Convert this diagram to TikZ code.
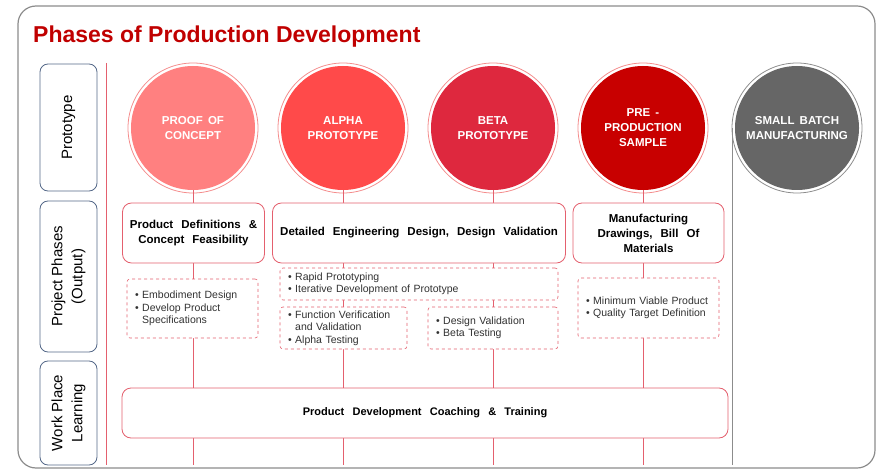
\documentclass[tikz,border=0pt]{standalone}
\usepackage{fontspec}
\setmainfont{Liberation Sans}
\definecolor{titlered}{RGB}{192,0,0}
\definecolor{linkred}{RGB}{228,96,110}
\definecolor{ringred}{RGB}{244,140,140}
\definecolor{labelblue}{RGB}{84,104,136}
\definecolor{framegray}{RGB}{140,140,140}
\definecolor{pocfill}{RGB}{255,128,128}
\definecolor{alphafill}{RGB}{255,74,74}
\definecolor{betafill}{RGB}{222,40,62}
\definecolor{prefill}{RGB}{200,0,0}
\definecolor{batchfill}{RGB}{102,102,102}
\definecolor{bullettext}{RGB}{50,50,50}
\newcommand{\widegap}[1]{\spaceskip=#1\relax}
\tikzset{
  phase/.style={circle, fill=#1, minimum size=124pt, inner sep=0pt, text=white,
    align=center, font=\fontsize{11.5}{15}\selectfont\bfseries\widegap{0.45em}},
  ring/.style={draw=ringred, line width=0.8pt},
  lanelabel/.style={draw=labelblue, rounded corners=8pt, line width=0.8pt,
    minimum width=57pt, align=center, font=\fontsize{15}{20}\selectfont},
  outputbox/.style={draw=linkred, fill=white, rounded corners=9pt, line width=0.8pt,
    minimum height=60pt, align=center, font=\fontsize{11.5}{15}\selectfont\bfseries\widegap{0.7em}},
  detail/.style={draw=linkred, dashed, fill=white, rounded corners=3pt, line width=0.6pt,
    align=left, inner xsep=8pt, text=bullettext, font=\fontsize{10.5}{12.5}\selectfont},
  link/.style={draw=linkred, line width=0.6pt}
}
\begin{document}
\begin{tikzpicture}[x=1pt, y=-1pt]
    \useasboundingbox (0,0) rectangle (880,470);
    % frame and title
    \draw [framegray, line width=1.2pt, rounded corners=18pt] (18,6) rectangle (875,468);
    \node (title) [anchor=base west, inner sep=0pt, text=titlered,
      font=\fontsize{23}{28}\selectfont\bfseries] at (33,43) {Phases of Production Development};
    % lane labels
    \node (proto) [lanelabel, minimum height=127pt] at (68.5,127.5) {};
    \node [rotate=90, font=\fontsize{15}{20}\selectfont] at (proto.center) {Prototype};
    \node (phases) [lanelabel, minimum height=151pt] at (68.5,276.5) {};
    \node [rotate=90, align=center, font=\fontsize{15}{20}\selectfont] at (phases.center) {Project Phases\\(Output)};
    \node (learn) [lanelabel, minimum height=104pt] at (68.5,413) {};
    \node [rotate=90, align=center, font=\fontsize{15}{20}\selectfont] at (learn.center) {Work Place\\Learning};
    \coordinate (lanetop) at (106,63);
    \coordinate (lanebot) at (106,465);
    \draw [link, line width=0.8pt] (lanetop) -- (lanebot);
    % phases
    \node (poc) [phase=pocfill] at (193,128) {PROOF OF\\CONCEPT};
    \node (alpha) [phase=alphafill] at (343,128) {ALPHA\\PROTOTYPE};
    \node (beta) [phase=betafill] at (493,128) {BETA\\PROTOTYPE};
    \node (pre) [phase=prefill] at (643,128) {PRE -\\PRODUCTION\\SAMPLE};
    \draw [ring] (poc.center) circle [radius=65pt];
    \draw [ring] (alpha.center) circle [radius=65pt];
    \draw [ring] (beta.center) circle [radius=65pt];
    \draw [ring] (pre.center) circle [radius=65pt];
    \coordinate (pocend) at (193,465);
    \coordinate (alphaend) at (343,465);
    \coordinate (betaend) at (493,465);
    \coordinate (preend) at (643,465);
    \draw [link] (poc) -- (pocend);
    \draw [link] (alpha) -- (alphaend);
    \draw [link] (beta) -- (betaend);
    \draw [link] (pre) -- (preend);
    \coordinate (batchtop) at (732,128);
    \coordinate (batchend) at (732,465);
    \draw [framegray, line width=0.8pt] (batchtop) -- (batchend);
    \node (batch) [phase=batchfill] at (797,128) {SMALL BATCH\\MANUFACTURING};
    \draw [framegray, line width=0.8pt] (batch.center) circle [radius=65pt];
    % outputs
    \node (defs) [outputbox, minimum width=142pt] at (193.5,233) {Product Definitions \&\\Concept Feasibility};
    \node (eng) [outputbox, minimum width=293pt] at (419,233) {Detailed Engineering Design, Design Validation};
    \node (mfg) [outputbox, minimum width=151pt] at (648.5,233) {Manufacturing\\Drawings, Bill Of\\Materials};
    % details
    \node (embody) [detail, text width=115pt, minimum height=59pt] at (192.5,308.5)
      {• Embodiment Design\\• Develop Product\\\phantom{• }Specifications};
    \node (rapid) [detail, text width=262pt, minimum height=32pt] at (419,284)
      {• Rapid Prototyping\\• Iterative Development of Prototype};
    \node (verify) [detail, text width=111pt, minimum height=42pt] at (343.5,328)
      {• Function Verification\\\phantom{• }and Validation\\• Alpha Testing};
    \node (betatest) [detail, text width=114pt, minimum height=42pt] at (493,328)
      {• Design Validation\\• Beta Testing};
    \node (mvp) [detail, text width=125pt, minimum height=60pt] at (648.5,308)
      {• Minimum Viable Product\\• Quality Target Definition};
    % learning
    \node (coach) [outputbox, minimum width=606pt, minimum height=50pt,
      font=\fontsize{11}{15}\selectfont\bfseries\widegap{0.75em}] at (425,413)
      {Product Development Coaching \& Training};
\end{tikzpicture}
\end{document}
